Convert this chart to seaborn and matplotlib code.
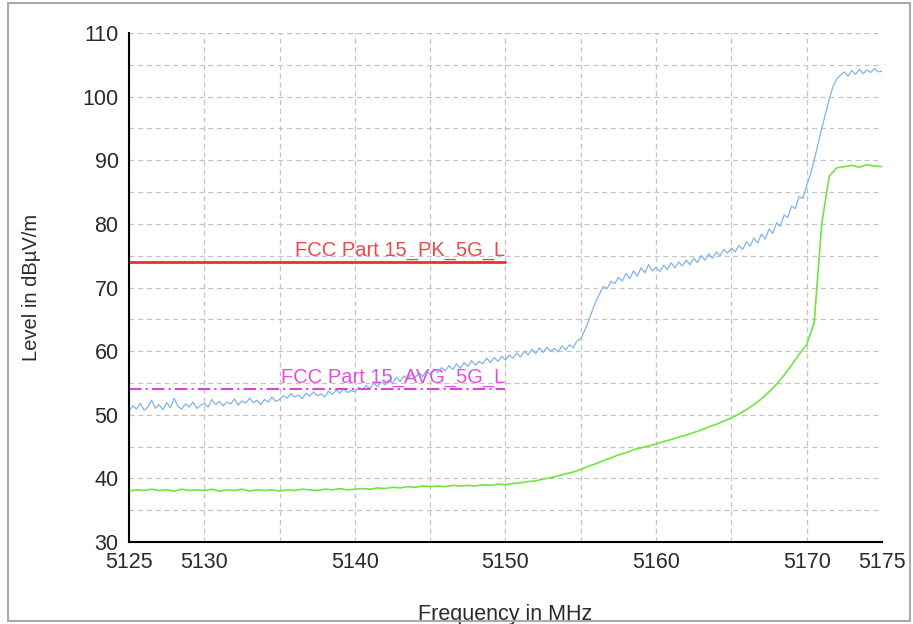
import numpy as np
import pandas as pd
import seaborn as sns
import matplotlib.pyplot as plt
from matplotlib.ticker import MultipleLocator, FuncFormatter
from matplotlib.patches import Rectangle

# Peak trace, 0.25 MHz steps from 5125 to 5175 MHz
peak_level = [
    50.6, 51.4, 50.9, 51.8, 50.7, 51.2, 52.3, 51.0, 51.6, 50.8, 51.9, 51.1, 52.6, 51.3, 50.9, 51.7, 51.2, 52.0, 51.0, 51.5,
    51.8, 51.2, 52.4, 51.6, 52.1, 51.4, 52.0, 51.7, 52.5, 51.5, 52.2, 51.8, 52.6, 51.9, 52.3, 51.6, 52.4, 52.0, 52.8, 52.1,
    52.4, 53.0, 52.6, 53.3, 52.8, 53.1, 52.5, 53.4, 52.9, 53.6, 53.0, 53.3, 52.8, 53.7, 53.2, 53.9, 53.4, 54.1, 53.5, 53.8,
    53.6, 54.3, 53.9, 54.6, 54.1, 55.0, 54.4, 55.2, 54.7, 55.5, 54.9, 55.9, 55.2, 56.1, 55.6, 56.4, 55.8, 56.6, 56.0, 56.9,
    56.3, 57.2, 56.6, 57.4, 56.9, 57.7, 57.1, 58.0, 57.3, 58.2, 57.6, 58.5, 57.8, 58.4, 58.0, 58.9, 58.2, 59.0, 58.4, 59.2,
    58.6, 59.4, 58.9, 59.7, 59.1, 60.0, 59.4, 60.3, 59.6, 60.5, 59.8, 60.6, 60.0, 60.4, 59.9, 60.8, 60.2, 61.0, 60.5, 61.6,
    62.0, 63.2, 64.6, 66.3, 67.8, 69.0, 70.2, 69.8, 71.0, 70.6, 71.6, 71.0, 72.2, 71.4, 72.6, 71.8, 73.1, 72.3, 73.6, 72.6,
    73.2, 72.5, 73.5, 72.8, 73.9, 73.1, 74.0, 73.4, 74.3, 73.6, 74.6, 73.9, 75.0, 74.3, 75.3, 74.6, 75.6, 75.0, 76.0, 75.4,
    76.2, 75.6, 76.6, 76.0, 77.2, 76.5, 77.8, 77.0, 78.4, 77.6, 79.2, 78.5, 80.2, 79.6, 81.4, 81.0, 82.8, 82.4, 84.3, 84.0,
    86.0, 87.8, 90.0, 92.5, 95.0, 97.3, 99.6, 101.6, 102.8, 103.4, 103.9, 103.2, 104.1, 103.5, 104.3, 103.6, 104.2, 103.8, 104.4, 103.9,
    104.0,
]

# Average trace, 0.5 MHz steps from 5125 to 5175 MHz
avg_level = [
    38.0, 38.2, 38.1, 38.3, 38.1, 38.2, 38.0, 38.3, 38.1, 38.2,
    38.1, 38.3, 38.0, 38.2, 38.1, 38.3, 38.0, 38.2, 38.1, 38.2,
    38.0, 38.2, 38.1, 38.3, 38.2, 38.1, 38.3, 38.2, 38.4, 38.2,
    38.3, 38.4, 38.3, 38.5, 38.4, 38.6, 38.5, 38.7, 38.6, 38.8,
    38.7, 38.8, 38.7, 38.9, 38.8, 38.9, 38.8, 39.0, 38.9, 39.1,
    39.0, 39.2, 39.3, 39.5, 39.6, 39.9, 40.1, 40.4, 40.7, 41.0,
    41.4, 41.9, 42.3, 42.8, 43.2, 43.7, 44.0, 44.5, 44.8, 45.1,
    45.4, 45.8, 46.1, 46.5, 46.8, 47.2, 47.6, 48.1, 48.5, 49.0,
    49.5, 50.1, 50.8, 51.6, 52.5, 53.6, 54.8, 56.2, 57.8, 59.5,
    61.0, 64.5, 80.0, 87.5, 88.8, 89.0, 89.2, 88.9, 89.3, 89.1,
    89.0,
]

peak_freq = np.linspace(5125, 5175, len(peak_level))
avg_freq = np.linspace(5125, 5175, len(avg_level))

# Limit lines (start, stop, level)
limit_freq = [5125, 5150]
pk_limit = 74
avg_limit = 54
pk_label = "FCC Part 15_PK_5G_L"
avg_label = "FCC Part 15_AVG_5G_L"

x_labels = [5125, 5130, 5140, 5150, 5160, 5170, 5175]

sns.set_style("white")
plt.rcParams['font.family'] = ['Liberation Sans', 'DejaVu Sans']

fig = plt.figure(figsize=(9.13, 6.24), dpi=100)
ax = fig.add_axes([0.1413, 0.1314, 0.8247, 0.8157])

peak_df = pd.DataFrame({"freq": peak_freq, "level": peak_level})
avg_df = pd.DataFrame({"freq": avg_freq, "level": avg_level})

sns.lineplot(data=peak_df, x="freq", y="level", ax=ax, color="#80b4ec", linewidth=0.9)
sns.lineplot(data=avg_df, x="freq", y="level", ax=ax, color="#72e440", linewidth=1.2)

ax.plot(limit_freq, [pk_limit, pk_limit], color="#e8322e", linewidth=2.0)
ax.plot(limit_freq, [avg_limit, avg_limit], color="#e040e0", linewidth=1.5, linestyle=(0, (6, 2, 1, 2)))
ax.text(limit_freq[1], pk_limit + 0.4, pk_label, color="#ec4a46", fontsize=14.5, ha="right", va="bottom")
ax.text(limit_freq[1], avg_limit + 0.4, avg_label, color="#e050e0", fontsize=14.5, ha="right", va="bottom")

ax.set_xlim(5125, 5175)
ax.set_ylim(30, 110)
ax.xaxis.set_major_locator(MultipleLocator(5))
ax.yaxis.set_major_locator(MultipleLocator(5))
ax.xaxis.set_major_formatter(FuncFormatter(lambda v, p: f"{v:.0f}" if round(v) in x_labels else ""))
ax.yaxis.set_major_formatter(FuncFormatter(lambda v, p: f"{v:.0f}" if round(v) % 10 == 0 else ""))
ax.tick_params(axis="both", direction="inout", length=9, width=1.2, color="black",
               labelsize=15.5, labelcolor="#2a2a2a", pad=3)

ax.grid(True, color="#c4c4c4", linestyle=(0, (4, 3)), linewidth=0.9)
ax.set_axisbelow(True)
for side in ["top", "right"]:
    ax.spines[side].set_visible(False)
for side in ["left", "bottom"]:
    ax.spines[side].set_color("black")
    ax.spines[side].set_linewidth(1.5)

ax.set_xlabel("Frequency in MHz", fontsize=15.5, color="#2a2a2a", labelpad=22)
ax.set_ylabel("Level in dBµV/m", fontsize=14.5, color="#2a2a2a", labelpad=30)

# gray frame around the whole picture
fig.patches.append(Rectangle((8 / 913, 3 / 624), 902 / 913, 618 / 624, transform=fig.transFigure,
                             fill=False, edgecolor="#aaaaaa", linewidth=1.5))

fig.savefig("out.png", dpi=100)
